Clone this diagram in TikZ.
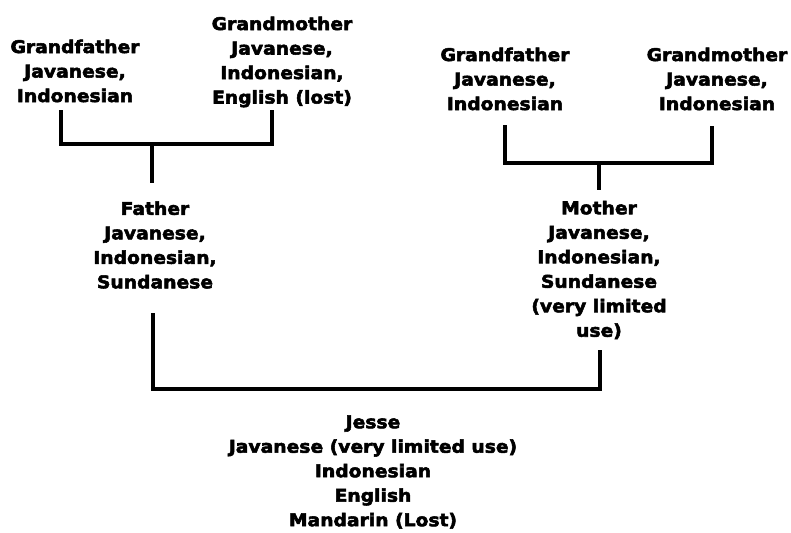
\documentclass[tikz,border=0pt]{standalone}
\usepackage{fontspec}
\setmainfont{DejaVu Sans}[BoldFont={DejaVu Sans Bold},BoldFeatures={FakeStretch=1.07,FakeBold=3}]
\begin{document}
\begin{tikzpicture}[x=1pt,y=-1pt,
  person/.style={align=center,inner sep=0pt,font=\bfseries\fontsize{17.5}{24.5}\selectfont},
  tree/.style={line width=3.3pt,line join=miter}]
\useasboundingbox[fill=white] (0,0) rectangle (791,532);
% people
\node[person] (lgf) at (75,71) {Grandfather\\Javanese,\\Indonesian};
\node[person] (lgm) at (282,62) {Grandmother\\Javanese,\\Indonesian,\\English (lost)};
\node[person] (fa) at (155,245) {Father\\Javanese,\\Indonesian,\\Sundanese};
\node[person] (rgf) at (505,79) {Grandfather\\Javanese,\\Indonesian};
\node[person] (rgm) at (717,79) {Grandmother\\Javanese,\\Indonesian};
\node[person] (mo) at (599,270) {Mother\\Javanese,\\Indonesian,\\Sundanese\\(very limited\\use)};
\node[person] (je) at (373,472) {Jesse\\Javanese (very limited use)\\Indonesian\\English\\Mandarin (Lost)};
% bracket coordinates
\coordinate (a1) at (61,110);
\coordinate (a2) at (272,110);
\coordinate (j1) at (152,144);
\coordinate (s1) at (152,183);
\coordinate (b1) at (505,125);
\coordinate (b2) at (712,126);
\coordinate (j2) at (599,163);
\coordinate (s2) at (599,190);
\coordinate (c1) at (153,313);
\coordinate (c2) at (600,350);
\coordinate (j3) at (376,389);
% connectors
\draw[tree] (a1) |- (j1) -| (a2);
\draw[tree] (j1) -- (s1);
\draw[tree] (b1) |- (j2) -| (b2);
\draw[tree] (j2) -- (s2);
\draw[tree] (c1) -- (c1 |- j3) -- (c2 |- j3) -- (c2);
\end{tikzpicture}
\end{document}
